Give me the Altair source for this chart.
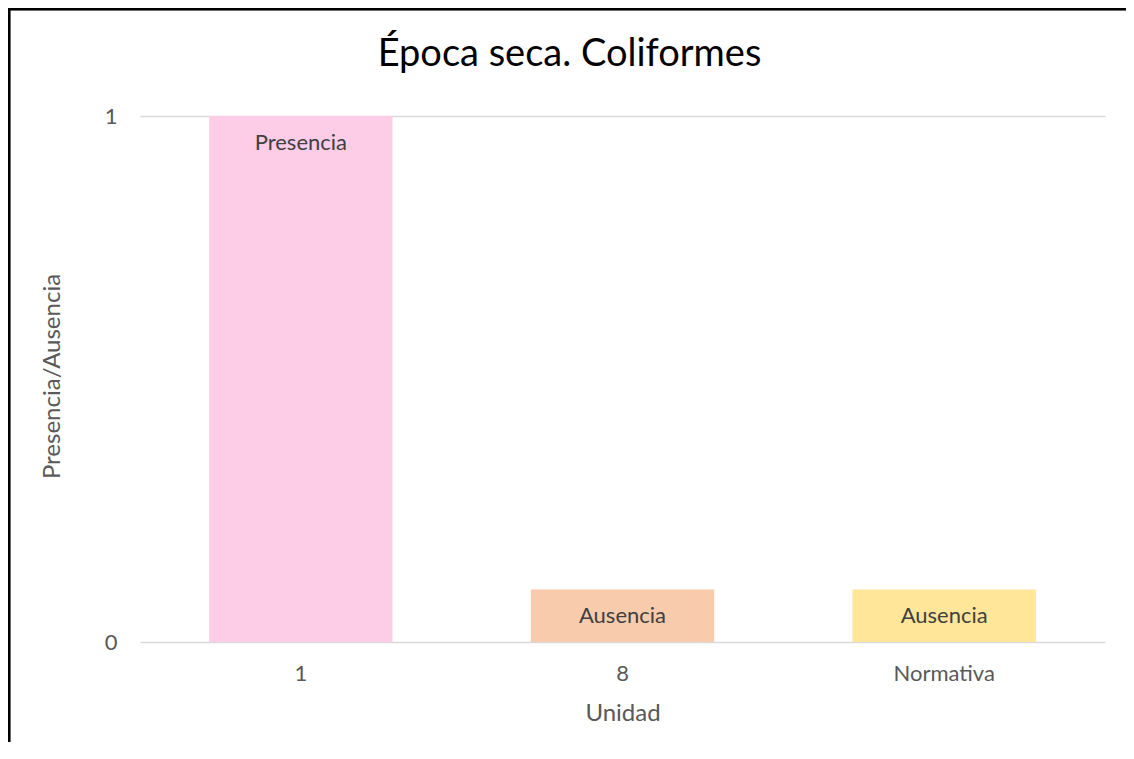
import altair as alt
import pandas as pd

categories = ["1", "8", "Normativa"]
values = [1.0, 0.1, 0.1]
labels = ["Presencia", "Ausencia", "Ausencia"]
colors = ["#FDCCE6", "#F8CBAD", "#FFE699"]

df = pd.DataFrame({"Unidad": categories, "valor": values, "etiqueta": labels})

W, H = 965, 526
PL, PT, PR, PB = 132, 108, 21, 100
FONT = "Lato"

x_enc = alt.X("Unidad:N", sort=categories,
              scale=alt.Scale(paddingInner=0.43, paddingOuter=0.215),
              axis=alt.Axis(title="Unidad", labelAngle=0, ticks=False, domain=False,
                            labelPadding=21, labelFontSize=22, labelColor="#595959",
                            labelFont=FONT, titleFont=FONT, titleFontSize=24,
                            titleFontWeight="normal", titleColor="#595959",
                            titleX=W / 2, titleY=71, titleBaseline="middle",
                            titleAlign="center", grid=False))
y_enc = alt.Y("valor:Q", scale=alt.Scale(domain=[0, 1], nice=False),
              axis=alt.Axis(title="Presencia/Ausencia", values=[0, 1], format="d",
                            ticks=False, domain=False, labelPadding=23,
                            labelFontSize=22, labelColor="#595959", labelFont=FONT,
                            titleFont=FONT, titleFontSize=24, titleFontWeight="normal",
                            titleColor="#595959", titleAngle=270, titleX=-88,
                            titleY=H / 2 - 3, titleAlign="center", titleBaseline="middle",
                            grid=True, gridColor="#D9D9D9", gridWidth=1.5))

bars = alt.Chart(df).mark_bar().encode(
    x=x_enc, y=y_enc,
    color=alt.Color("Unidad:N", sort=categories,
                    scale=alt.Scale(domain=categories, range=colors), legend=None),
)

text = alt.Chart(df).mark_text(baseline="middle", dy=27, fontSize=22, font=FONT,
                               color="#404040").encode(
    x=alt.X("Unidad:N", sort=categories), y="valor:Q", text="etiqueta:N")

frame = alt.Chart(df).mark_rect(fill=None, stroke="black", strokeWidth=2.5).encode(
    x=alt.value(-PL + 1), y=alt.value(-PT + 1),
    x2=alt.value(W + PR + 50), y2=alt.value(H + PB + 50))

chart = alt.layer(frame, bars, text).properties(
    width=W, height=H,
    background="white",
    autosize=alt.AutoSizeParams(type="none"),
    padding={"left": PL, "top": PT, "right": PR, "bottom": PB},
    title=alt.TitleParams("Época seca. Coliformes", font=FONT, fontSize=38,
                          fontWeight="normal", color="black", anchor="middle",
                          offset=0, dy=66, dx=-53),
).configure_view(stroke=None)

chart.save("out.html", embed_options={"renderer": "svg", "actions": False})
